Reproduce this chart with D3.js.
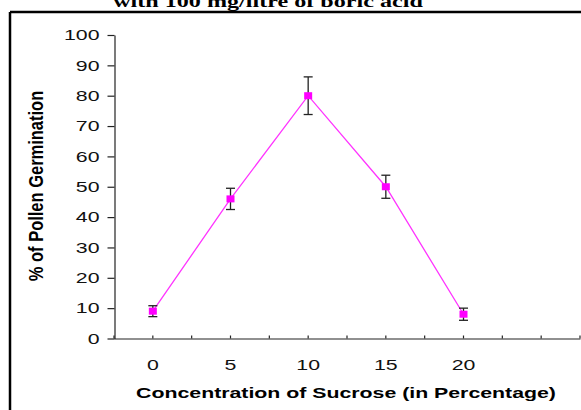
<!DOCTYPE html>
<html>
<head>
<meta charset="utf-8">
<script src="https://cdn.jsdelivr.net/npm/d3@7"></script>
<style>
  body { margin: 0; background: #fff; }
  svg { display: block; }
</style>
</head>
<body>
<div id="chart"></div>
<script>
// values
var sucrose = [0, 5, 10, 15, 20];
var germination = [9, 46, 80, 50, 8];
var errors = [1.8, 3.5, 6.2, 3.8, 2];
var xLabels = [0, 5, 10, 15, 20];
var xTicks = [-2.5, 0, 2.5, 5, 7.5, 10, 12.5, 15, 17.5, 20, 22.5, 25, 27.5];
var yTicks = [0, 10, 20, 30, 40, 50, 60, 70, 80, 90, 100];

var width = 581, height = 410,
    sx = 1.42; // the source image is stretched sideways, so text is too

var svg = d3.select("#chart").append("svg")
  .attr("width", width)
  .attr("height", height);

var x = d3.scaleLinear().domain([-2.5, 27.5]).range([114, 580]);
var y = d3.scaleLinear().domain([0, 100]).range([338.5, 35]);

// outer frame (only top and left visible)
svg.append("line").attr("x1", 10).attr("x2", width).attr("y1", 12).attr("y2", 12)
  .style("stroke", "#000").style("stroke-width", 2.5);
svg.append("line").attr("x1", 10).attr("x2", 10).attr("y1", 12).attr("y2", height)
  .style("stroke", "#000").style("stroke-width", 2.5);

// cut-off title
svg.append("text")
  .attr("transform", "translate(268,7) scale(" + sx + ",1)")
  .attr("text-anchor", "middle")
  .style("font", "bold 17px 'Liberation Serif', 'Times New Roman', serif")
  .style("fill", "#000")
  .text("with 100 mg/litre of boric acid");

// y axis
var yAxis = svg.append("g")
  .attr("transform", "translate(114.5,0)")
  .call(d3.axisLeft(y).tickValues(yTicks).tickSize(7).tickSizeOuter(0).tickFormat(d3.format("d")));

yAxis.selectAll("text")
  .attr("x", -15 / sx)
  .attr("transform", "scale(" + sx + ",1)")
  .style("font", "15px 'Liberation Sans', Arial, sans-serif")
  .style("fill", "#111");

// x axis
var xAxis = svg.append("g")
  .attr("transform", "translate(0," + 338.5 + ")")
  .call(d3.axisBottom(x).tickValues(xTicks).tickSize(-3).tickSizeOuter(0).tickPadding(21)
    .tickFormat(function(d){ return xLabels.indexOf(d) >= 0 ? d : ""; }));

xAxis.selectAll("text")
  .attr("transform", function(d){ return "translate(" + x(d) + ",0) scale(" + sx + ",1)"; })
  .style("font", "15px 'Liberation Sans', Arial, sans-serif")
  .style("fill", "#111");
xAxis.selectAll(".tick").attr("transform", null);
xAxis.selectAll(".tick line").attr("x1", function(d){ return x(d); }).attr("x2", function(d){ return x(d); });

svg.selectAll(".domain, .tick line").style("stroke", "#222").style("stroke-width", 1.2);

// axis titles
svg.append("text")
  .attr("transform", "translate(346,398) scale(" + sx + ",1)")
  .attr("text-anchor", "middle")
  .style("font", "bold 15px 'Liberation Sans', Arial, sans-serif")
  .style("fill", "#000")
  .text("Concentration of Sucrose (in Percentage)");

svg.append("text")
  .attr("transform", "translate(43,186) rotate(-90) scale(1,1.25)")
  .attr("text-anchor", "middle")
  .style("font", "bold 16.5px 'Liberation Sans', Arial, sans-serif")
  .style("fill", "#000")
  .text("% of Pollen Germination");

// series
var pts = sucrose.map(function(d, i){
  return { x: d, y: germination[i], e: errors[i] };
});

svg.append("path").datum(pts)
  .attr("d", d3.line().x(function(d){ return x(d.x); }).y(function(d){ return y(d.y); }))
  .style("fill", "none").style("stroke", "#ff33ff").style("stroke-width", 1.3);

var eb = svg.selectAll(".err").data(pts).enter().append("g").attr("class", "err")
  .style("stroke", "#222").style("stroke-width", 1.3);
eb.append("line")
  .attr("x1", function(d){ return x(d.x); }).attr("x2", function(d){ return x(d.x); })
  .attr("y1", function(d){ return y(d.y + d.e); }).attr("y2", function(d){ return y(d.y - d.e); });
eb.append("line")
  .attr("x1", function(d){ return x(d.x) - 4.5; }).attr("x2", function(d){ return x(d.x) + 4.5; })
  .attr("y1", function(d){ return y(d.y + d.e); }).attr("y2", function(d){ return y(d.y + d.e); });
eb.append("line")
  .attr("x1", function(d){ return x(d.x) - 4.5; }).attr("x2", function(d){ return x(d.x) + 4.5; })
  .attr("y1", function(d){ return y(d.y - d.e); }).attr("y2", function(d){ return y(d.y - d.e); });

svg.selectAll(".mark").data(pts).enter().append("rect").attr("class", "mark")
  .attr("x", function(d){ return x(d.x) - 4; })
  .attr("y", function(d){ return y(d.y) - 3.5; })
  .attr("width", 8).attr("height", 7)
  .style("fill", "#ff00ff");
</script>
</body>
</html>
